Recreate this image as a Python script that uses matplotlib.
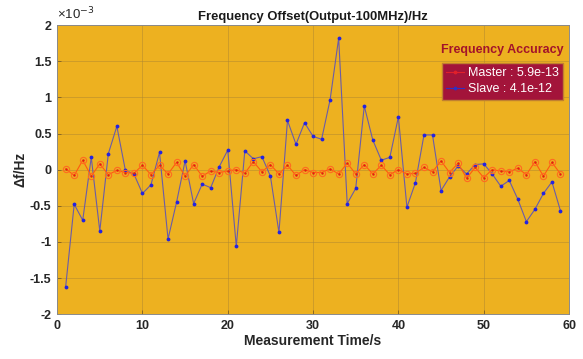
import matplotlib
matplotlib.use("Agg")
import matplotlib.pyplot as plt
from matplotlib.lines import Line2D

plt.rcParams['font.family'] = ['Liberation Sans', 'DejaVu Sans']

t = list(range(1, 60))
# values in units of 1e-3 Hz
slave = [-1.62, -0.48, -0.70, 0.17, -0.85, 0.22, 0.60, -0.01, -0.06, -0.33,
         -0.21, 0.24, -0.96, -0.45, 0.12, -0.47, -0.20, -0.25, 0.04, 0.27,
         -1.06, 0.26, 0.15, 0.18, -0.09, -0.87, 0.68, 0.35, 0.65, 0.46,
         0.42, 0.97, 1.82, -0.47, -0.26, 0.88, 0.41, 0.13, 0.17, 0.73,
         -0.52, -0.18, 0.48, 0.48, -0.29, -0.10, 0.05, -0.06, 0.07, 0.08,
         -0.06, -0.23, -0.15, -0.41, -0.72, -0.55, -0.33, -0.17, -0.57]
master = [0.01, -0.08, 0.13, -0.09, 0.08, -0.07, -0.01, -0.04, -0.05, 0.06,
          -0.07, 0.06, -0.06, 0.10, -0.09, 0.07, -0.09, -0.02, -0.04, -0.02,
          0.00, -0.05, 0.11, -0.03, 0.07, -0.06, 0.06, -0.08, 0.00, -0.04,
          -0.04, 0.01, -0.06, 0.09, -0.06, 0.07, -0.06, 0.06, -0.07, 0.00,
          -0.06, -0.05, 0.03, -0.03, 0.12, -0.04, 0.09, -0.12, 0.03, -0.11,
          0.00, -0.02, -0.03, 0.02, -0.07, 0.11, -0.09, 0.10, -0.06]

xticks = [0, 10, 20, 30, 40, 50, 60]
yticks = [-2, -1.5, -1, -0.5, 0, 0.5, 1, 1.5, 2]
ytick_labels = ['-2', '-1.5', '-1', '-0.5', '0', '0.5', '1', '1.5', '2']

bg = '#EDB120'
fig = plt.figure(figsize=(5.83, 3.59), dpi=100)
ax = fig.add_axes([0.098, 0.125, 0.878, 0.805])
ax.set_facecolor(bg)

ax.plot(t, slave, '-', color='#6A5CA8', lw=0.8, zorder=3)
ax.plot(t, slave, '.', color='#2424E0', ms=3.5, zorder=4)
ax.plot(t, master, '-', color='#FF5A10', lw=0.8, zorder=5,
        marker='o', ms=4.5, mfc='none', mec='#FF6A20', mew=0.8)
ax.plot(t, master, '.', color='#E02010', ms=1.5, zorder=6)

ax.set_xlim(0, 60)
ax.set_ylim(-2, 2)
ax.set_xticks(xticks)
ax.set_yticks(yticks)
ax.set_yticklabels(ytick_labels)
ax.grid(True, color='#B08830', lw=0.6, alpha=0.6)
ax.tick_params(direction='in', length=3, width=0.6, color='#806020',
               labelsize=9, pad=4)
for lab in ax.get_xticklabels() + ax.get_yticklabels():
    lab.set_fontweight('bold')
    lab.set_color('#262626')
for s in ax.spines.values():
    s.set_color('#8a8a8a')
    s.set_linewidth(0.7)

ax.set_title('Frequency Offset(Output-100MHz)/Hz', fontsize=9.4,
             fontweight='bold', color='#1a1a1a', pad=4)
ax.set_xlabel('Measurement Time/s', fontsize=10, fontweight='bold',
              color='#262626', labelpad=2)
ax.set_ylabel('Δf/Hz', fontsize=10, fontweight='bold', color='#262626',
              labelpad=2)
ax.text(0.0, 1.01, '×10$^{-3}$', transform=ax.transAxes, fontsize=9.5,
        color='#262626', ha='left', va='bottom')

handles = [Line2D([0], [0], color='#E0202A', lw=0.8, marker='.', ms=3.5),
           Line2D([0], [0], color='#3030C0', lw=0.8, marker='.', ms=3.5)]
leg = ax.legend(handles, ['Master : 5.9e-13', 'Slave : 4.1e-12'],
                loc='upper right', bbox_to_anchor=(0.988, 0.87),
                fontsize=9, frameon=True, fancybox=False,
                facecolor='#A3143A', edgecolor='#C08030', framealpha=1,
                handlelength=1.4, handletextpad=0.3, borderpad=0.35,
                labelspacing=0.35, borderaxespad=0.0)
for txt in leg.get_texts():
    txt.set_color('white')
ax.text(0.99, 0.915, 'Frequency Accuracy', transform=ax.transAxes,
        ha='right', va='center', fontsize=9, fontweight='bold',
        color='#A3142A')

fig.savefig('out.png', dpi=100, facecolor='white')
